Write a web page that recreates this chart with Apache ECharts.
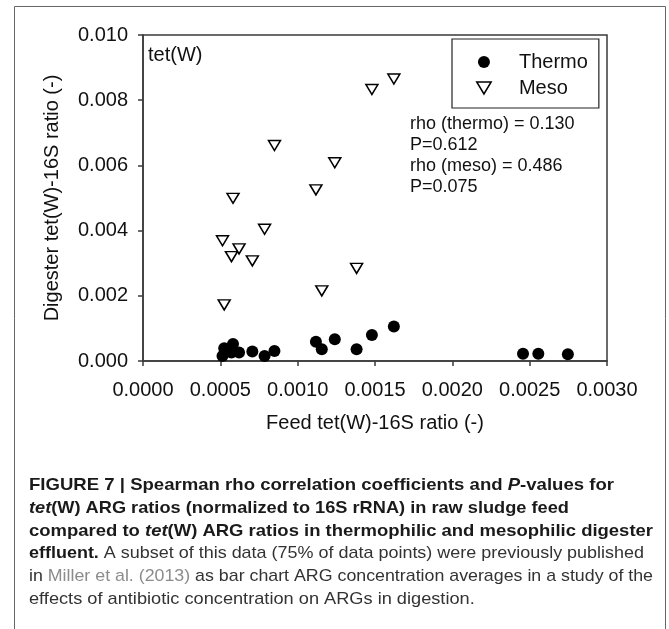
<!DOCTYPE html>
<html>
<head>
<meta charset="utf-8">
<script src="https://cdn.jsdelivr.net/npm/echarts@6/dist/echarts.min.js"></script>
<style>
html,body{margin:0;padding:0;background:#fff;}
#chart{width:669px;height:629px;}
</style>
</head>
<body>
<div id="chart"></div>
<script>
// ---- data ----
var thermoFeed = [0.000514, 0.000525, 0.000572, 0.000582, 0.000621, 0.000707, 0.000786, 0.000850,
                  0.001118, 0.001156, 0.001240, 0.001381, 0.001480, 0.001622, 0.002457, 0.002556, 0.002747];
var thermoDigester = [0.00015, 0.00039, 0.00026, 0.00052, 0.00026, 0.00029, 0.00015, 0.00031,
                      0.00059, 0.00036, 0.00067, 0.00036, 0.00080, 0.00106, 0.00022, 0.00022, 0.00021];
var mesoFeed = [0.000514, 0.000525, 0.000572, 0.000582, 0.000621, 0.000707, 0.000786, 0.000850,
                0.001118, 0.001156, 0.001240, 0.001381, 0.001480, 0.001622];
var mesoDigester = [0.00369, 0.00172, 0.00320, 0.00499, 0.00344, 0.00307, 0.00404, 0.00661,
                    0.00525, 0.00215, 0.00608, 0.00284, 0.00833, 0.00865];
var seriesNames = ['Thermo', 'Meso'];
var xTitle = 'Feed tet(W)-16S ratio (-)';
var yTitle = 'Digester tet(W)-16S ratio (-)';
var panelLabel = 'tet(W)';
var statLines = ['rho (thermo) = 0.130', 'P=0.612', 'rho (meso) = 0.486', 'P=0.075'];
var captionLines = [
  [['b', 'FIGURE 7 | Spearman rho correlation coefficients and '], ['bi', 'P'], ['b', '-values for']],
  [['bi', 'tet'], ['b', '(W) ARG ratios (normalized to 16S rRNA) in raw sludge feed']],
  [['b', 'compared to '], ['bi', 'tet'], ['b', '(W) ARG ratios in thermophilic and mesophilic digester']],
  [['b', 'effluent.'], ['r', ' A subset of this data (75% of data points) were previously published']],
  [['r', 'in '], ['g', 'Miller et al. (2013)'], ['r', ' as bar chart ARG concentration averages in a study of the']],
  [['r', 'effects of antibiotic concentration on ARGs in digestion.']]
];

// ---- layout / styles ----
var FONT = '"Liberation Sans", Arial, Helvetica, sans-serif';
var axisColor = '#3a3a3a';
var triPath = 'path://M0,0 L12,0 L6,10 Z';

function zip(a, b) { return a.map(function (v, i) { return [v, b[i]]; }); }

var capFonts = {
  b: 'bold 17px ' + FONT,
  bi: 'italic bold 17px ' + FONT,
  r: '17px ' + FONT,
  g: '17px ' + FONT
};
var capColors = { b: '#1a1a1a', bi: '#1a1a1a', r: '#333333', g: '#8c8c8c' };
var capTargets = [585, 0, 624, 615, 624, 0]; // target widths (0 = use common scale)
var ctx = document.createElement('canvas').getContext('2d');
function measure(line) {
  var w = 0;
  line.forEach(function (seg) { ctx.font = capFonts[seg[0]]; w += ctx.measureText(seg[1]).width; });
  return w;
}
var scales = captionLines.map(function (line, i) {
  return capTargets[i] ? capTargets[i] / measure(line) : 0;
});
var known = scales.filter(function (s) { return s > 0; });
var avgScale = known.reduce(function (a, b) { return a + b; }, 0) / known.length;
scales = scales.map(function (s) { return s > 0 ? s : avgScale; });

var rich = {};
Object.keys(capFonts).forEach(function (k) {
  rich[k] = { font: capFonts[k], fill: capColors[k] };
});
var capY = [485, 508, 531, 553, 576, 599];
var graphics = [
  { type: 'rect', shape: { x: 14.5, y: 6.5, width: 651, height: 700 },
    style: { fill: 'none', stroke: '#666', lineWidth: 1 }, silent: true },
  { type: 'text', x: 148, y: 55, style: { text: panelLabel, font: '20px ' + FONT, fill: '#111', verticalAlign: 'middle' } }
];
var statY = [124, 145, 166, 187];
statLines.forEach(function (t, i) {
  graphics.push({ type: 'text', x: 410, y: statY[i],
    style: { text: t, font: '18px ' + FONT, fill: '#111', verticalAlign: 'middle' } });
});
captionLines.forEach(function (line, i) {
  var txt = line.map(function (seg) { return '{' + seg[0] + '|' + seg[1] + '}'; }).join('');
  graphics.push({ type: 'text', x: 29, y: capY[i], scaleX: scales[i],
    style: { text: txt, rich: rich, verticalAlign: 'middle', font: '17px ' + FONT } });
});

var chart = echarts.init(document.getElementById('chart'), null, { renderer: 'canvas' });
chart.setOption({
  animation: false,
  backgroundColor: '#fff',
  textStyle: { fontFamily: FONT },
  grid: { left: 143, top: 35, width: 464, height: 326, show: true,
          borderColor: axisColor, borderWidth: 1.5, backgroundColor: 'transparent' },
  legend: {
    left: 452, top: 39, orient: 'vertical',
    padding: [13, 11, 10, 24],
    itemWidth: 60, itemHeight: 12, itemGap: 6,
    borderColor: '#222', borderWidth: 1.2, backgroundColor: '#fff',
    textStyle: { fontSize: 20, color: '#111', fontFamily: FONT, lineHeight: 12 },
    data: [
      { name: seriesNames[0], icon: 'circle', itemStyle: { color: '#000', borderWidth: 0 } },
      { name: seriesNames[1], icon: triPath, itemStyle: { color: '#fff', borderColor: '#000', borderWidth: 1.5 } }
    ]
  },
  xAxis: {
    type: 'value', min: 0, max: 0.003, interval: 0.0005,
    name: xTitle, nameLocation: 'middle', nameGap: 52,
    nameTextStyle: { fontSize: 20, color: '#111' },
    axisLine: { show: true, lineStyle: { color: axisColor, width: 1.5 } },
    axisTick: { show: true, inside: false, length: 5, lineStyle: { color: axisColor, width: 1.5 } },
    axisLabel: { fontSize: 20, color: '#111', margin: 19, formatter: function (v) { return v.toFixed(4); } },
    splitLine: { show: false }
  },
  yAxis: {
    type: 'value', min: 0, max: 0.010, interval: 0.002,
    name: yTitle, nameLocation: 'middle', nameGap: 81,
    nameTextStyle: { fontSize: 20, color: '#111' },
    axisLine: { show: true, lineStyle: { color: axisColor, width: 1.5 } },
    axisTick: { show: true, inside: false, length: 5, lineStyle: { color: axisColor, width: 1.5 } },
    axisLabel: { fontSize: 20, color: '#111', margin: 15, formatter: function (v) { return v.toFixed(3); } },
    splitLine: { show: false }
  },
  series: [
    { name: seriesNames[0], type: 'scatter', symbol: 'circle', symbolSize: 12,
      itemStyle: { color: '#000', opacity: 1 }, data: zip(thermoFeed, thermoDigester), z: 3 },
    { name: seriesNames[1], type: 'scatter', symbol: triPath, symbolSize: [12, 10],
      itemStyle: { color: '#fff', borderColor: '#000', borderWidth: 1.5, opacity: 1 },
      data: zip(mesoFeed, mesoDigester), z: 2 }
  ],
  graphic: graphics
});
</script>
</body>
</html>
